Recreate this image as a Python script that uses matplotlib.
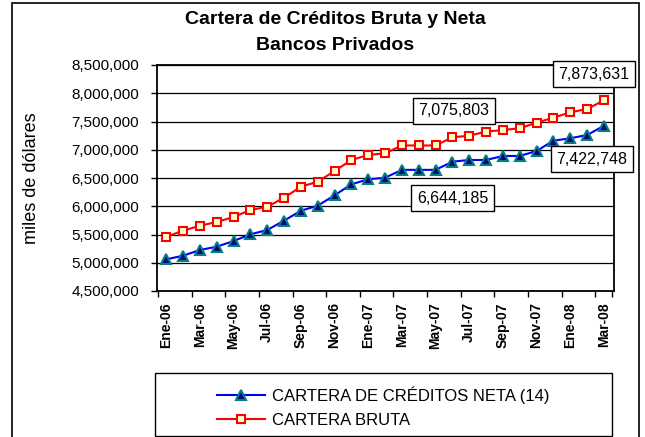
import matplotlib.pyplot as plt
from matplotlib.patches import Rectangle
from matplotlib.ticker import FuncFormatter, FixedLocator

plt.rcParams['font.family'] = ['Liberation Sans', 'DejaVu Sans']

# Meses (Ene-06 ... Mar-08)
meses = ['Ene', 'Feb', 'Mar', 'Abr', 'May', 'Jun', 'Jul', 'Ago', 'Sep', 'Oct', 'Nov', 'Dic']
periodos = [f'{m}-{a}' for a in ['06', '07'] for m in meses] + ['Ene-08', 'Feb-08', 'Mar-08']

# Cartera de creditos neta (14), miles de dolares
neta = [5061000, 5125000, 5226000, 5284000, 5385000, 5503000, 5580000, 5745000, 5921000,
        6010000, 6194000, 6389000, 6477000, 6505000, 6644185, 6644185, 6644185, 6789000,
        6819000, 6819000, 6890000, 6890000, 6978000, 7160000, 7203000, 7261000, 7422748]

# Cartera bruta
bruta = [5461000, 5567000, 5656000, 5721000, 5810000, 5934000, 5992000, 6151000, 6346000,
         6435000, 6624000, 6819000, 6907000, 6937000, 7075803, 7075803, 7075803, 7220000,
         7249000, 7320000, 7350000, 7380000, 7479000, 7567000, 7663000, 7721000, 7873631]

x = list(range(len(periodos)))

fig = plt.figure(figsize=(6.45, 4.37), dpi=100)
ax = fig.add_axes([157 / 645, 1 - 291 / 437, (614 - 157) / 645, 226 / 437])

ax.plot(x, neta, color='#0000FF', lw=1.5, marker='^', ms=6.5,
        markerfacecolor='#000080', markeredgecolor='#008080', mew=1.5,
        label='CARTERA DE CRÉDITOS NETA (14)', zorder=3)
ax.plot(x, bruta, color='#FF0000', lw=1.5, marker='s', ms=5.5,
        markerfacecolor='#FFFFCC', markeredgecolor='#FF0000', mew=1.5,
        label='CARTERA BRUTA', zorder=3)

ax.set_xlim(-0.55, 26.6)
ax.set_ylim(4500000, 8500000)
ax.set_yticks(range(4500000, 8500001, 500000))
ax.yaxis.set_major_formatter(FuncFormatter(lambda v, p: f'{int(v):,}'))
ax.grid(axis='y', color='black', lw=0.9)
ax.set_axisbelow(True)

# etiquetas cada dos meses, marcas entre categorias
ax.set_xticks(x[::2])
ax.set_xticklabels(periodos[::2], rotation=90, fontweight='bold', fontsize=10)
ax.xaxis.set_minor_locator(FixedLocator([i - 0.5 for i in x[::2]] + [26.5]))
ax.tick_params(axis='x', which='major', length=0, pad=8)
ax.tick_params(axis='x', which='minor', length=4, width=1)
ax.tick_params(axis='y', length=4, width=1, labelsize=11, pad=9)

for s in ax.spines.values():
    s.set_linewidth(1.3)
    s.set_color('black')

ax.set_ylabel('miles de dólares', fontsize=13)
ax.yaxis.set_label_coords(-0.256, 0.5)
fig.text(335 / 645, 1 - 20 / 437, 'Cartera de Créditos Bruta y Neta', ha='center', va='center',
         fontsize=14, fontweight='bold')
fig.text(335 / 645, 1 - 45 / 437, 'Bancos Privados', ha='center', va='center',
         fontsize=14, fontweight='bold')

caja = dict(boxstyle='square,pad=0.35', fc='white', ec='black', lw=1)
ax.text(25.4, 8340000, f'{bruta[-1]:,}', ha='center', va='center', fontsize=11.5, bbox=caja, zorder=5)
ax.text(25.3, 6836000, f'{neta[-1]:,}', ha='center', va='center', fontsize=11.5, bbox=caja, zorder=5)
ax.text(17.1, 7686000, f'{bruta[16]:,}', ha='center', va='center', fontsize=11.5, bbox=caja, zorder=5)
ax.text(17.0, 6146000, f'{neta[16]:,}', ha='center', va='center', fontsize=11.5, bbox=caja, zorder=5)

# recuadro de la leyenda
fig.patches.append(Rectangle((155 / 645, 1 - 436 / 437), (612 - 155) / 645, (436 - 373) / 437,
                             transform=fig.transFigure, fill=False, ec='black', lw=1))
fig.legend(loc='upper left', bbox_to_anchor=(202 / 645, 1 - 371 / 437), frameon=False,
           fontsize=12, handlelength=2.9, handletextpad=0.4, labelspacing=0.55)

# borde del grafico
fig.patches.append(Rectangle((12 / 645, -0.05), (639 - 12) / 645, 1.05 - 3 / 437,
                             transform=fig.transFigure, fill=False, ec='black', lw=1.2))

fig.savefig('out.png', dpi=100)
